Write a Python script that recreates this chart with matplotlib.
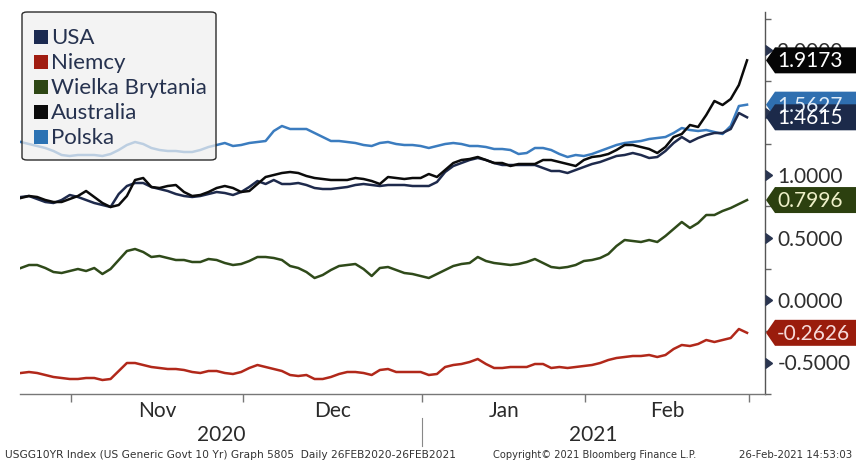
import matplotlib
matplotlib.use("Agg")
import matplotlib.pyplot as plt
import matplotlib.transforms as mtransforms
from matplotlib.patches import Polygon, FancyBboxPatch, Rectangle
import numpy as np
import pandas as pd

# ---------------- data ----------------
start_date = "2020-10-22"
end_date = "2021-02-26"
holidays = ["2020-12-25", "2021-01-01"]

series_names = ["USA", "Niemcy", "Wielka Brytania", "Australia", "Polska"]

usa = [0.824, 0.832, 0.808, 0.784, 0.776, 0.8, 0.84, 0.824, 0.8, 0.776,
       0.76, 0.744, 0.848, 0.912, 0.936, 0.936, 0.904, 0.888, 0.872, 0.848,
       0.832, 0.824, 0.832, 0.848, 0.864, 0.856, 0.84, 0.864, 0.904, 0.952,
       0.928, 0.96, 0.928, 0.928, 0.936, 0.92, 0.896, 0.888, 0.888, 0.896,
       0.904, 0.92, 0.928, 0.92, 0.912, 0.92, 0.92, 0.92, 0.912, 0.912,
       0.912, 0.944, 1.024, 1.072, 1.096, 1.12, 1.136, 1.12, 1.096, 1.08,
       1.08, 1.08, 1.08, 1.08, 1.056, 1.032, 1.032, 1.016, 1.04, 1.064,
       1.088, 1.104, 1.128, 1.152, 1.16, 1.176, 1.16, 1.136, 1.144, 1.192,
       1.256, 1.304, 1.264, 1.296, 1.32, 1.336, 1.336, 1.368, 1.496, 1.4615]

niemcy = [-0.584, -0.576, -0.584, -0.6, -0.616, -0.624, -0.632, -0.632, -0.624, -0.624,
          -0.64, -0.632, -0.568, -0.504, -0.504, -0.52, -0.536, -0.544, -0.552, -0.552,
          -0.56, -0.576, -0.584, -0.568, -0.568, -0.584, -0.592, -0.576, -0.544, -0.52,
          -0.536, -0.552, -0.568, -0.6, -0.608, -0.6, -0.632, -0.632, -0.616, -0.592,
          -0.576, -0.576, -0.584, -0.6, -0.56, -0.552, -0.576, -0.576, -0.576, -0.576,
          -0.6, -0.592, -0.536, -0.52, -0.512, -0.496, -0.472, -0.512, -0.544, -0.544,
          -0.536, -0.536, -0.536, -0.512, -0.512, -0.544, -0.536, -0.544, -0.536, -0.528,
          -0.52, -0.504, -0.48, -0.464, -0.456, -0.448, -0.448, -0.44, -0.456, -0.44,
          -0.392, -0.36, -0.368, -0.352, -0.32, -0.336, -0.32, -0.304, -0.232, -0.2626]

wielka_brytania = [0.256, 0.28, 0.28, 0.256, 0.224, 0.216, 0.232, 0.248, 0.232, 0.256,
                   0.208, 0.248, 0.32, 0.392, 0.408, 0.384, 0.344, 0.352, 0.336, 0.32,
                   0.32, 0.304, 0.304, 0.328, 0.32, 0.296, 0.28, 0.288, 0.312, 0.344,
                   0.344, 0.336, 0.32, 0.272, 0.256, 0.224, 0.176, 0.2, 0.24, 0.272,
                   0.28, 0.288, 0.248, 0.192, 0.256, 0.264, 0.24, 0.216, 0.208, 0.192,
                   0.176, 0.208, 0.24, 0.272, 0.288, 0.296, 0.344, 0.312, 0.296, 0.288,
                   0.28, 0.288, 0.304, 0.328, 0.296, 0.264, 0.256, 0.264, 0.28, 0.312,
                   0.32, 0.336, 0.368, 0.432, 0.48, 0.472, 0.464, 0.48, 0.464, 0.512,
                   0.568, 0.624, 0.576, 0.616, 0.68, 0.68, 0.712, 0.736, 0.768, 0.7996]

australia = [0.816, 0.832, 0.824, 0.8, 0.784, 0.784, 0.808, 0.832, 0.872, 0.824,
             0.776, 0.744, 0.76, 0.832, 0.96, 0.976, 0.904, 0.896, 0.912, 0.92,
             0.864, 0.832, 0.84, 0.864, 0.896, 0.912, 0.896, 0.864, 0.872, 0.928,
             0.984, 1.0, 1.016, 1.024, 1.016, 0.992, 0.976, 0.968, 0.96, 0.96,
             0.96, 0.976, 0.968, 0.952, 0.928, 0.984, 0.976, 0.968, 0.976, 0.976,
             1.008, 0.984, 1.04, 1.096, 1.12, 1.128, 1.144, 1.12, 1.096, 1.096,
             1.072, 1.088, 1.088, 1.088, 1.12, 1.12, 1.104, 1.088, 1.072, 1.12,
             1.144, 1.152, 1.168, 1.2, 1.24, 1.24, 1.224, 1.208, 1.176, 1.224,
             1.304, 1.328, 1.4, 1.384, 1.48, 1.592, 1.56, 1.608, 1.72, 1.9173]

polska = [1.264, 1.248, 1.232, 1.216, 1.192, 1.16, 1.152, 1.16, 1.16, 1.16,
          1.152, 1.168, 1.2, 1.24, 1.264, 1.248, 1.216, 1.2, 1.192, 1.192,
          1.184, 1.184, 1.2, 1.224, 1.24, 1.256, 1.232, 1.24, 1.256, 1.264,
          1.272, 1.352, 1.392, 1.368, 1.368, 1.368, 1.336, 1.304, 1.272, 1.272,
          1.264, 1.256, 1.24, 1.232, 1.256, 1.264, 1.248, 1.24, 1.24, 1.232,
          1.216, 1.232, 1.248, 1.256, 1.248, 1.232, 1.232, 1.224, 1.208, 1.208,
          1.2, 1.168, 1.176, 1.216, 1.216, 1.2, 1.168, 1.144, 1.16, 1.152,
          1.168, 1.192, 1.216, 1.24, 1.256, 1.264, 1.272, 1.288, 1.296, 1.304,
          1.336, 1.376, 1.36, 1.352, 1.36, 1.344, 1.328, 1.392, 1.552, 1.5627]

y_tick_values = [-0.5, 0.0, 0.5, 1.0, 1.5, 2.0]
y_minor_values = [-0.75, -0.25, 0.25, 0.75, 1.25, 1.75, 2.25]
month_labels = ["Nov", "Dec", "Jan", "Feb"]
year_labels = ["2020", "2021"]
footer_left = "USGG10YR Index (US Generic Govt 10 Yr) Graph 5805  Daily 26FEB2020-26FEB2021"
footer_mid = "Copyright\u00a9 2021 Bloomberg Finance L.P."
footer_right = "26-Feb-2021 14:53:03"

# ---------------- styles ----------------
line_colors = ["#1e2a4c", "#b1281a", "#2f4a1a", "#0b0b0b", "#3b7cbf"]
legend_colors = ["#1b2a50", "#a01c10", "#2d4614", "#0a0a0a", "#2b72b3"]
tag_bg = ["#1c2a4a", "#9a1c0c", "#2c400f", "#050505", "#2f6fb0"]
tag_fg = ["#ffffff", "#f6dada", "#eef0c8", "#ffffff", "#e0ecf8"]

W, H = 856, 463
fig = plt.figure(figsize=(W / 100, H / 100), dpi=100)
fig.patch.set_facecolor("white")

ax_left, ax_right, ax_top, ax_bottom = 20, 765, 12, 394
ax = fig.add_axes([ax_left / W, (H - ax_bottom) / H,
                   (ax_right - ax_left) / W, (ax_bottom - ax_top) / H])
ax.set_facecolor("white")

dates = pd.bdate_range(start_date, end_date)
dates = dates[~dates.isin(pd.to_datetime(holidays))]
xs = np.arange(len(dates))

all_series = [usa, niemcy, wielka_brytania, australia, polska]
draw_order = [1, 2, 4, 0, 3]
for i in draw_order:
    ax.plot(xs, all_series[i], color=line_colors[i], lw=1.8, zorder=3,
            solid_joinstyle="round")

ax.set_xlim(-0.1, 91.2)
ax.set_ylim(-0.752, 2.304)

for s in ["left", "top"]:
    ax.spines[s].set_visible(False)
ax.spines["right"].set_color("#555555")
ax.spines["bottom"].set_color("#777777")
ax.spines["right"].set_linewidth(1.0)
ax.spines["bottom"].set_linewidth(1.0)

# month ticks (positioned at month boundaries of the trading-day index)
month_starts = pd.date_range("2020-11-01", "2021-03-01", freq="MS")
tick_pos = []
for m in month_starts:
    idx = int(np.searchsorted(dates.values, np.datetime64(m)))
    tick_pos.append(idx - 0.8)
ax.set_xticks(tick_pos)
ax.set_xticklabels([])
ax.tick_params(axis="x", direction="out", length=6, width=1, color="#777777")

trans_xlab = mtransforms.blended_transform_factory(ax.transData, ax.transAxes)
for k, lab in enumerate(month_labels):
    mid = (tick_pos[k] + tick_pos[k + 1]) / 2
    ax.text(mid, -0.045, lab, transform=trans_xlab, ha="center", va="center",
            fontsize=15, family="Lato", color="#2a2a2a")
jan_pos = tick_pos[2]
xl = ax.get_xlim()
ax.text((xl[0] + jan_pos) / 2, -0.108, year_labels[0], transform=trans_xlab,
        ha="center", va="center", fontsize=15, family="Lato", color="#2a2a2a")
ax.text((jan_pos + xl[1]) / 2, -0.108, year_labels[1], transform=trans_xlab,
        ha="center", va="center", fontsize=15, family="Lato", color="#2a2a2a")
ax.plot([jan_pos, jan_pos], [-0.062, -0.135], transform=trans_xlab,
        color="#888888", lw=0.8, clip_on=False)

# y axis on right
ax.yaxis.tick_right()
ax.set_yticks(y_tick_values)
ax.set_yticklabels([f"{v:.4f}" for v in y_tick_values])
ax.set_yticks(y_minor_values, minor=True)
ax.tick_params(axis="y", which="major", length=0, pad=9, labelsize=15,
               labelcolor="#2e2e2e")
ax.tick_params(axis="y", which="minor", direction="out", length=4, width=1,
               color="#666666")
for lab in ax.get_yticklabels():
    lab.set_family("Lato")
ytrans = ax.get_yaxis_transform()
ax.plot([1.0] * len(y_tick_values), y_tick_values, transform=ytrans,
        linestyle="none", marker=9, markersize=7, color="#2a3550",
        clip_on=False, zorder=4)

# ---------------- legend (manual) ----------------
def fx(px):
    return px / W

def fy(py):
    return (H - py) / H

lg_x0, lg_x1, lg_y0, lg_y1 = 22, 216, 12, 160
leg_fill = FancyBboxPatch((fx(lg_x0), fy(lg_y1)), fx(lg_x1) - fx(lg_x0),
                          fy(lg_y0) - fy(lg_y1),
                          boxstyle="round,pad=0,rounding_size=0.006",
                          transform=fig.transFigure, facecolor="#efefef",
                          edgecolor="none", alpha=0.72, zorder=5)
leg_edge = FancyBboxPatch((fx(lg_x0), fy(lg_y1)), fx(lg_x1) - fx(lg_x0),
                          fy(lg_y0) - fy(lg_y1),
                          boxstyle="round,pad=0,rounding_size=0.006",
                          transform=fig.transFigure, facecolor="none",
                          edgecolor="#2b2b2b", lw=1.0, zorder=6)
fig.add_artist(leg_fill)
fig.add_artist(leg_edge)
for k, name in enumerate(series_names):
    cy = 37 + 25 * k
    sq = Rectangle((fx(34), fy(cy + 7)), fx(48) - fx(34), fy(cy - 7) - fy(cy + 7),
                   transform=fig.transFigure, facecolor=legend_colors[k],
                   edgecolor="none", zorder=7)
    fig.add_artist(sq)
    fig.text(fx(51), fy(cy + 1), name, ha="left", va="center", fontsize=16,
             family="Lato", color="#26324f", zorder=7)

# ---------------- value tags ----------------
tag_order = [3, 4, 0, 2, 1]
tag_half = 13
for i in tag_order:
    val = all_series[i][-1]
    cy = ax_top + (ax.get_ylim()[1] - val) / (ax.get_ylim()[1] - ax.get_ylim()[0]) * (ax_bottom - ax_top)
    pts = [(fx(ax_right + 1), fy(cy)), (fx(ax_right + 10), fy(cy - tag_half)),
           (fx(W + 5), fy(cy - tag_half)), (fx(W + 5), fy(cy + tag_half)),
           (fx(ax_right + 10), fy(cy + tag_half))]
    poly = Polygon(pts, closed=True, transform=fig.transFigure,
                   facecolor=tag_bg[i], edgecolor="none", zorder=8)
    fig.add_artist(poly)
    fig.text(fx(ax_right + 12), fy(cy + 1), f"{val:.4f}", ha="left", va="center",
             fontsize=15, family="Lato", color=tag_fg[i], zorder=9)

# ---------------- footer ----------------
fig.text(fx(5), fy(455), footer_left, ha="left", va="center", fontsize=7.7,
         color="#333333")
fig.text(fx(493), fy(455), footer_mid, ha="left", va="center", fontsize=7.1,
         color="#333333")
fig.text(fx(852), fy(455), footer_right, ha="right", va="center", fontsize=7.4,
         color="#333333")

fig.savefig("out.png", dpi=100, facecolor="white")
